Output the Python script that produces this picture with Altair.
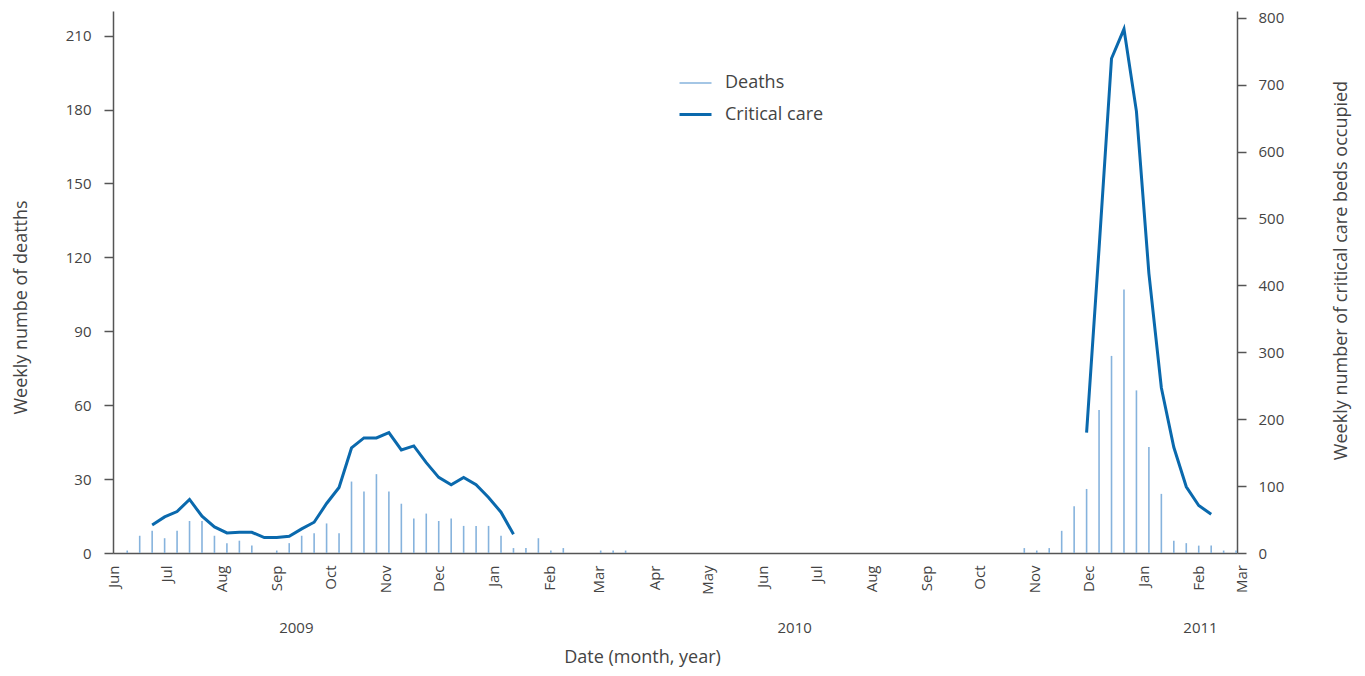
import altair as alt
import pandas as pd

# ---- data -------------------------------------------------------------
first_week = "2009-06-09"
n_weeks = 90
deaths = ([1, 7, 9, 6, 9, 13, 13, 7, 4, 5, 3, 0, 1, 4, 7, 8, 12, 8, 29, 25,
           32, 25, 20, 14, 16, 13, 14, 11, 11, 11, 7, 2, 2, 6, 1, 2, 0, 0, 1, 1, 1]
          + [0] * 31
          + [2, 1, 2, 9, 19, 26, 58, 80, 107, 66, 43, 24, 5, 4, 3, 3, 1, 1])

cc_wave1_first = 2
cc_wave1 = [42, 54, 62, 80, 55, 39, 30, 31, 31, 23, 23, 25, 36, 46, 74, 98, 157,
            172, 172, 180, 154, 160, 135, 113, 102, 113, 102, 83, 61, 28]
cc_wave2_first = 77
cc_wave2 = [180, 455, 739, 783, 660, 418, 247, 158, 99, 71, 58]

month_ticks = pd.date_range("2009-06-01", "2011-02-01", freq="MS")
years = ["2009", "2010", "2011"]
year_pos = ["2009-09-12", "2010-06-19", "2011-02-02"]

weeks = pd.date_range(first_week, periods=n_weeks, freq="7D")
fmt = "%Y-%m-%dT00:00:00"

deaths_df = pd.DataFrame({"date": weeks.strftime(fmt), "value": deaths,
                          "series": "Deaths"})
cc_rows = []
for seg, (start, vals) in enumerate([(cc_wave1_first, cc_wave1),
                                     (cc_wave2_first, cc_wave2)]):
    for i, v in enumerate(vals):
        cc_rows.append({"date": weeks[start + i].strftime(fmt), "value": v,
                        "series": "Critical care", "seg": seg})
cc_df = pd.DataFrame(cc_rows)
year_df = pd.DataFrame({"label": years,
                        "date": [d + "T00:00:00" for d in year_pos]})
mar_df = pd.DataFrame({"label": ["Mar"], "date": ["2011-02-25T12:00:00"]})

# ---- style ------------------------------------------------------------
W, H = 1124, 542
FONT = "Open Sans"
TXT = "#444444"
AX = "#555555"
BAR_C = "#86b3dd"
LINE_C = "#0a69ad"

x_scale = alt.Scale(domain=[alt.DateTime(year=2009, month=6, date=1),
                            alt.DateTime(year=2011, month=2, date=22, hours=12)])
x_axis = alt.Axis(values=[alt.DateTime(year=d.year, month=d.month, date=1)
                          for d in month_ticks],
                  format="%b", labelAngle=-90, ticks=False, labelPadding=12,
                  labelFontSize=15, labelColor=TXT, domainColor=AX,
                  domainWidth=1.5, grid=False,
                  title="Date (month, year)", titleFontSize=18,
                  titleFontWeight="normal", titleColor=TXT,
                  titleX=529, titleY=104, titleAlign="center",
                  titleBaseline="middle")

legend = alt.Legend(title=None, orient="none", legendX=565, legendY=55,
                    symbolType="stroke", symbolSize=1024, labelFontSize=18,
                    labelColor=TXT, labelOffset=12, rowPadding=5)
color = alt.Color("series:N",
                  scale=alt.Scale(domain=["Deaths", "Critical care"],
                                  range=[BAR_C, LINE_C]),
                  legend=legend)
swidth = alt.StrokeWidth("series:N",
                         scale=alt.Scale(domain=["Deaths", "Critical care"],
                                         range=[1.6, 3]),
                         legend=legend)

bars = alt.Chart(deaths_df).mark_rule().encode(
    x=alt.X("date:T", scale=x_scale, axis=x_axis),
    y=alt.Y("value:Q",
            scale=alt.Scale(domain=[0, 220], nice=False),
            axis=alt.Axis(values=list(range(0, 211, 30)), orient="left",
                          tickSize=9, labelPadding=13, labelFontSize=15,
                          labelColor=TXT, domainColor=AX, tickColor=AX,
                          domainWidth=1.5, tickWidth=1.5, grid=False,
                          title="Weekly numbe of deatths", titleFontSize=18,
                          titleFontWeight="normal", titleColor=TXT,
                          titleAngle=270, titleX=-92, titleY=296,
                          titleAlign="center", titleBaseline="middle")),
    y2=alt.datum(0),
    color=color,
    strokeWidth=swidth,
)

line = alt.Chart(cc_df).mark_line().encode(
    x=alt.X("date:T", scale=x_scale),
    y=alt.Y("value:Q",
            scale=alt.Scale(domain=[0, 810], nice=False),
            axis=alt.Axis(values=list(range(0, 801, 100)), orient="right",
                          tickSize=9, labelPadding=12, labelFontSize=15,
                          labelColor=TXT, domainColor=AX, tickColor=AX,
                          domainWidth=1.5, tickWidth=1.5, grid=False,
                          title="Weekly number of critical care beds occupied",
                          titleFontSize=18, titleFontWeight="normal",
                          titleColor=TXT, titleAngle=270, titleX=104,
                          titleY=259, titleAlign="center",
                          titleBaseline="middle")),
    color=color,
    strokeWidth=swidth,
    detail="seg:N",
)

year_text = alt.Chart(year_df).mark_text(
    fontSize=15, color=TXT, font=FONT, baseline="middle"
).encode(x=alt.X("date:T", scale=x_scale), y=alt.value(H + 75),
         text="label:N")

mar_text = alt.Chart(mar_df).mark_text(
    fontSize=15, color=TXT, font=FONT, angle=270, align="right",
    baseline="middle"
).encode(x=alt.X("date:T", scale=x_scale), y=alt.value(H + 12),
         text="label:N")

chart = alt.layer(bars, line, year_text, mar_text).resolve_scale(
    y="independent"
).properties(
    width=W, height=H,
    autosize=alt.AutoSizeParams(type="none"),
    padding={"left": 105, "top": 3, "right": 115, "bottom": 115},
).configure(font=FONT).configure_view(stroke=None)

chart.save("out.html", embed_options={"renderer": "svg", "actions": False})
